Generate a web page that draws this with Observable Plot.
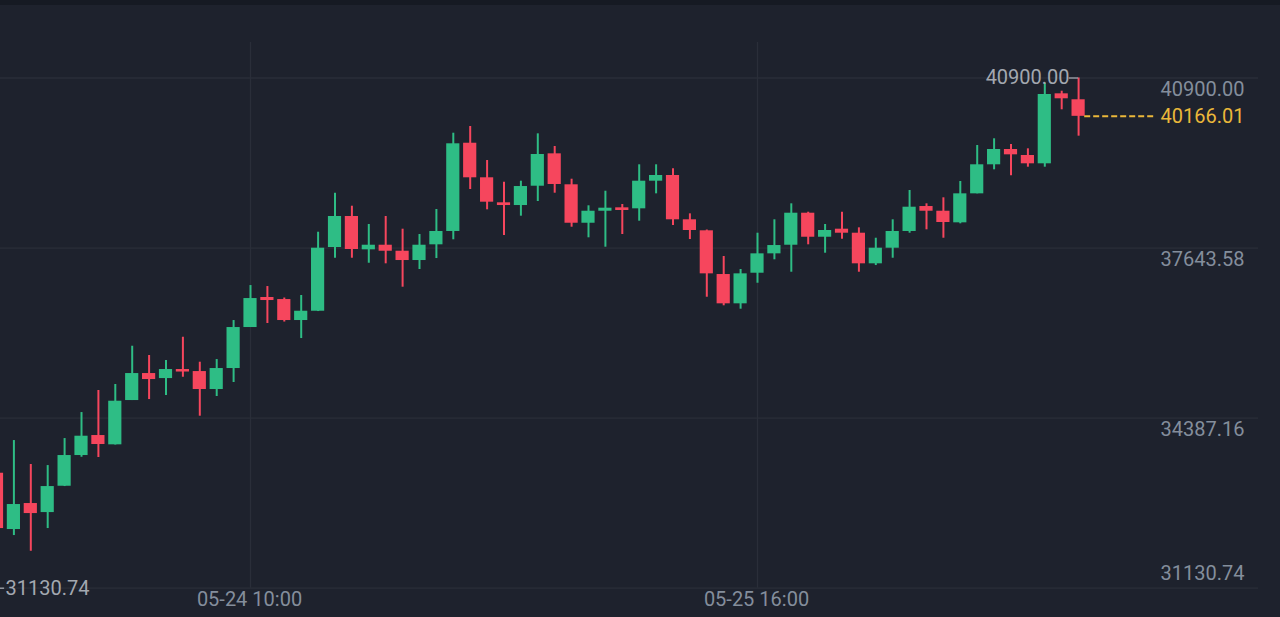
<!DOCTYPE html>
<html><head><meta charset="utf-8">
<script src="https://cdn.jsdelivr.net/npm/d3@7"></script>
<script src="https://cdn.jsdelivr.net/npm/@observablehq/plot@0.6"></script>
<style>
html,body{margin:0;padding:0;background:#1e222d;width:1280px;height:617px;overflow:hidden;}
#top{height:5px;background:#161a23;}
#chart svg{display:block;overflow:hidden;}
</style></head><body><div id="top"></div><div id="chart"></div>
<script>
const times = [
"2021-05-23T19:00Z","2021-05-23T20:00Z","2021-05-23T21:00Z","2021-05-23T22:00Z","2021-05-23T23:00Z",
"2021-05-24T00:00Z","2021-05-24T01:00Z","2021-05-24T02:00Z","2021-05-24T03:00Z","2021-05-24T04:00Z","2021-05-24T05:00Z",
"2021-05-24T06:00Z","2021-05-24T07:00Z","2021-05-24T08:00Z","2021-05-24T09:00Z","2021-05-24T10:00Z","2021-05-24T11:00Z",
"2021-05-24T12:00Z","2021-05-24T13:00Z","2021-05-24T14:00Z","2021-05-24T15:00Z","2021-05-24T16:00Z","2021-05-24T17:00Z",
"2021-05-24T18:00Z","2021-05-24T19:00Z","2021-05-24T20:00Z","2021-05-24T21:00Z","2021-05-24T22:00Z","2021-05-24T23:00Z",
"2021-05-25T00:00Z","2021-05-25T01:00Z","2021-05-25T02:00Z","2021-05-25T03:00Z","2021-05-25T04:00Z","2021-05-25T05:00Z",
"2021-05-25T06:00Z","2021-05-25T07:00Z","2021-05-25T08:00Z","2021-05-25T09:00Z","2021-05-25T10:00Z","2021-05-25T11:00Z",
"2021-05-25T12:00Z","2021-05-25T13:00Z","2021-05-25T14:00Z","2021-05-25T15:00Z","2021-05-25T16:00Z","2021-05-25T17:00Z",
"2021-05-25T18:00Z","2021-05-25T19:00Z","2021-05-25T20:00Z","2021-05-25T21:00Z","2021-05-25T22:00Z","2021-05-25T23:00Z",
"2021-05-26T00:00Z","2021-05-26T01:00Z","2021-05-26T02:00Z","2021-05-26T03:00Z","2021-05-26T04:00Z","2021-05-26T05:00Z",
"2021-05-26T06:00Z","2021-05-26T07:00Z","2021-05-26T08:00Z","2021-05-26T09:00Z","2021-05-26T10:00Z","2021-05-26T11:00Z"];

const open = [33332,32254,32752,32579,33083,33671,34054,33876,34724,35241,35145,35318,35279,34935,35337,36122,36697,36658,36256,36434,
37654,38248,37610,37698,37583,37405,37706,37961,39651,38989,38510,38458,38828,39448,38855,38119,38349,38414,38395,38924,
39033,38185,37974,37137,36576,37162,37533,37698,38311,37851,38005,37928,37342,37641,37961,38439,38349,38127,38682,39238,
39531,39416,39257,40597,40483];
const high = [33422,33958,33499,33479,33996,34494,34916,35031,35764,35586,35490,35936,35458,35509,36256,36926,36907,36687,36735,37947,
38694,38445,38095,38248,38005,37903,38382,39843,39971,39320,38905,38924,39831,39588,38962,38453,38732,38478,39238,39238,
39161,38299,37989,37482,37233,37928,38185,38491,38330,38095,38330,38031,37832,38185,38746,38491,38606,38918,39607,39736,
39627,39544,40800,40647,40900];
const low = [32139,32139,31838,32273,33077,33638,33633,33872,34724,34743,34820,35170,34424,34801,35069,36122,36199,36227,35911,36428,
37449,37449,37353,37342,36894,37233,37443,37802,38765,38376,37884,38254,38535,38694,38043,37840,37660,37903,38158,38682,
38075,37807,36702,36538,36473,36970,37419,37181,37706,37545,37813,37181,37309,37449,37928,37993,37832,38108,38682,39142,
39027,39192,39192,40291,39786];
const close = [32273,32733,32560,33077,33671,34041,33882,34711,35241,35126,35318,35270,34935,35337,36122,36677,36639,36256,36434,37641,
38248,37616,37698,37583,37405,37698,37961,39640,38989,38522,38458,38822,39435,38861,38119,38349,38407,38363,38924,39033,
38185,37980,37150,36576,37150,37533,37692,38311,37851,37980,37928,37342,37641,37961,38426,38349,38133,38682,39238,39531,
39429,39257,40584,40502,40166.01];

const yTicks = [40900.00, 37643.58, 34387.16, 31130.74];
const xTicks = ["2021-05-24T10:00Z", "2021-05-25T16:00Z"];
const lastPrice = 40166.01;
const maxHigh = 40900.00;
const minLow = 31130.74;

const GREEN = "#2ebd85", RED = "#f6465d", GRID = "#2a2e39", AXIS = "#848e9c", YELLOW = "#ebb83a", MARK = "#a3a8b0";
const H = 3600e3;
const HALF = 23.4 * 60e3;

const candles = times.map((t, i) => ({
  time: new Date(t), open: open[i], high: high[i], low: low[i], close: close[i],
  color: close[i] >= open[i] ? GREEN : RED
}));
const last = candles[candles.length - 1];
const first = candles[0];
const xTickDates = xTicks.map(d => new Date(d));
const fmt = d3.utcFormat("%m-%d %H:%M");
const font = "Roboto, 'Noto Sans', sans-serif";

const chart = Plot.plot({
  width: 1280,
  height: 612,
  marginLeft: 0,
  marginRight: 22,
  marginTop: 37,
  marginBottom: 29.3,
  style: {background: "transparent", fontFamily: font, overflow: "hidden"},
  x: {type: "utc", domain: [xTickDates[0], xTickDates[1]], range: [250, 757], axis: null},
  y: {domain: [31130.74, 40900], range: [582.7, 72.5], axis: null},
  marks: [
    Plot.ruleY(yTicks, {stroke: GRID, strokeWidth: 1.3}),
    Plot.ruleX(xTickDates, {stroke: GRID, strokeWidth: 1.3}),
    Plot.ruleX(candles, {x: "time", y1: "low", y2: "high", stroke: "color", strokeWidth: 2}),
    Plot.rect(candles, {
      x1: d => new Date(+d.time - HALF), x2: d => new Date(+d.time + HALF),
      y1: d => Math.min(d.open, d.close), y2: d => Math.max(d.open, d.close),
      fill: "color"
    }),
    // max marker
    Plot.ruleY([maxHigh], {x1: new Date(+last.time - 0.55 * H), x2: last.time, stroke: MARK, strokeWidth: 1.3}),
    Plot.text([maxHigh], {x: last.time, y: d => d, text: d => d.toFixed(2), textAnchor: "end", dx: -9, lineAnchor: "middle", fill: MARK, fontSize: 20, fontFamily: font}),
    // min marker
    Plot.ruleY([minLow], {x1: first.time, x2: new Date(+first.time + 0.45 * H), stroke: MARK, strokeWidth: 1.3}),
    Plot.text([minLow], {x: new Date(+first.time + 0.45 * H), y: d => d, text: d => d.toFixed(2), textAnchor: "start", dx: 1, lineAnchor: "middle", fill: MARK, fontSize: 20, fontFamily: font}),
    // last price line
    Plot.ruleY([lastPrice], {x1: new Date(+last.time + 0.36 * H), x2: new Date(+last.time + 4.5 * H), stroke: YELLOW, strokeWidth: 2, strokeDasharray: "6,3"}),
    Plot.text([lastPrice], {y: d => d, text: d => d.toFixed(2), frameAnchor: "right", textAnchor: "end", dx: -14, lineAnchor: "middle", fill: YELLOW, fontSize: 20, fontFamily: font}),
    // y labels
    Plot.text(yTicks.slice(0, 3), {y: d => d, text: d => d.toFixed(2), frameAnchor: "right", textAnchor: "end", dx: -14, lineAnchor: "top", dy: 3.8, fill: AXIS, fontSize: 20, fontFamily: font}),
    Plot.text(yTicks.slice(3), {y: d => d, text: d => d.toFixed(2), frameAnchor: "right", textAnchor: "end", dx: -14, lineAnchor: "top", dy: -22.5, fill: AXIS, fontSize: 20, fontFamily: font}),
    // x labels
    Plot.text(xTickDates, {x: d => d, text: d => fmt(d), frameAnchor: "bottom", textAnchor: "middle", lineAnchor: "top", dy: 3.5, dx: -1, fill: AXIS, fontSize: 20, fontFamily: font})
  ]
});
document.getElementById("chart").appendChild(chart);
</script>
</body></html>
